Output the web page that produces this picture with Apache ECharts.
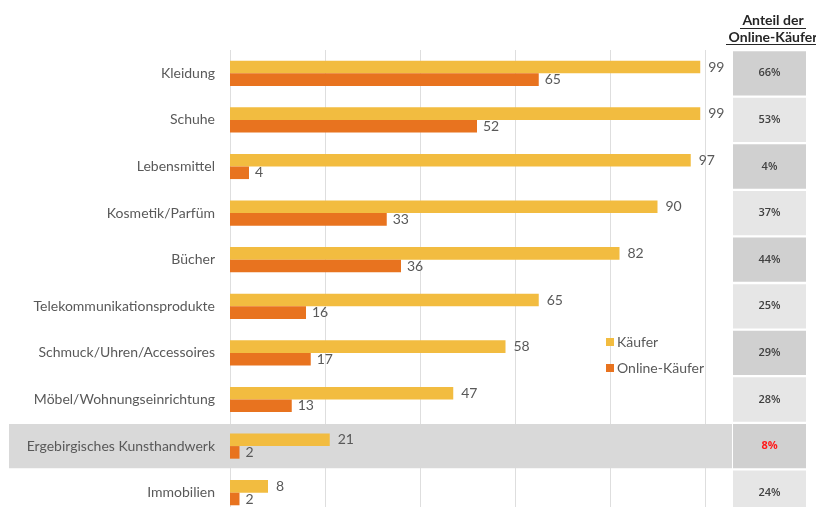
<!DOCTYPE html>
<html>
<head>
<meta charset="utf-8">
<script src="https://cdn.jsdelivr.net/npm/echarts@6/dist/echarts.min.js"></script>
<style>html,body{margin:0;padding:0;background:#fff}#c{width:816px;height:507px}</style>
</head>
<body>
<div id="c"></div>
<script>
const categories = ['Kleidung','Schuhe','Lebensmittel','Kosmetik/Parfüm','Bücher','Telekommunikationsprodukte','Schmuck/Uhren/Accessoires','Möbel/Wohnungseinrichtung','Ergebirgisches Kunsthandwerk','Immobilien'];
const kaeufer = [99,99,97,90,82,65,58,47,21,8];
const onlineKaeufer = [65,52,4,33,36,16,17,13,2,2];
const anteilOnline = [66,53,4,37,44,25,29,28,8,24];
const highlightCategory = 'Ergebirgisches Kunsthandwerk';
const xTicks = [0,20,40,60,80,100];

const FONT = 'Lato';
const GREY = '#595959';
const hiIdx = categories.indexOf(highlightCategory);

const chart = echarts.init(document.getElementById('c'));
const option = {
  animation: false,
  textStyle: {fontFamily: FONT},
  grid: [
    {left: 230, top: 50, width: 475, height: 466, outerBoundsMode: 'none', containLabel: false},
    {left: 733, top: 50, width: 73, height: 466, outerBoundsMode: 'none', containLabel: false}
  ],
  xAxis: [
    {type: 'value', gridIndex: 0, min: xTicks[0], max: xTicks[xTicks.length-1], interval: 20,
     axisLabel: {show: false}, axisLine: {show: false}, axisTick: {show: false},
     splitLine: {show: true, lineStyle: {color: '#dedede', width: 1}}, z: 0},
    {type: 'value', gridIndex: 1, min: 0, max: 1, show: false}
  ],
  yAxis: [
    {type: 'category', gridIndex: 0, data: categories, inverse: true, z: 3,
     axisLine: {show: false}, axisTick: {show: false},
     axisLabel: {color: GREY, fontSize: 14, fontFamily: FONT, margin: 15}},
    {type: 'category', gridIndex: 1, data: categories, inverse: true, show: false}
  ],
  legend: {
    orient: 'vertical', left: 601, top: 330, itemWidth: 8, itemHeight: 8, itemGap: 12,
    icon: 'rect', textStyle: {color: GREY, fontSize: 14, fontFamily: FONT, padding: [0,0,0,-2]},
    data: ['Käufer','Online-Käufer']
  },
  series: [
    {name: 'Käufer', type: 'bar', xAxisIndex: 0, yAxisIndex: 0, data: kaeufer,
     barGap: '0%', barCategoryGap: '46%', itemStyle: {color: '#F2BC40'}, z: 4,
     label: {show: true, position: 'right', distance: 8, color: GREY, fontSize: 14, fontFamily: FONT}},
    {name: 'Online-Käufer', type: 'bar', xAxisIndex: 0, yAxisIndex: 0, data: onlineKaeufer,
     barGap: '0%', barCategoryGap: '46%', itemStyle: {color: '#E8731F'}, z: 4,
     label: {show: true, position: 'right', distance: 6, color: GREY, fontSize: 14, fontFamily: FONT}},
    {name: 'Anteil', type: 'bar', xAxisIndex: 1, yAxisIndex: 1, barCategoryGap: '5%',
     data: anteilOnline.map((v, i) => ({
       value: 1,
       itemStyle: {color: i % 2 === 0 ? '#d0d0d0' : '#e6e6e6'},
       label: {show: true, position: 'inside', formatter: v + '%',
               color: i === hiIdx ? '#ff1a1a' : '#404040',
               fontWeight: i === hiIdx ? 'bold' : 600, fontSize: 11, fontFamily: 'Open Sans'}
     })),
     silent: true}
  ]
};
chart.setOption(option);

// highlight band and header, derived from the axis scales
const yc = chart.convertToPixel({yAxisIndex: 0}, highlightCategory);
const band = 466 / categories.length;
const cellH = band * 0.95;
const hx = 773;
chart.setOption({
  graphic: [
    {type: 'rect', z: 1, silent: true,
     shape: {x: 9, y: yc - cellH / 2, width: 723, height: cellH},
     style: {fill: '#d9d9d9'}},
    {type: 'text', z: 5, x: hx, y: 20, style: {text: 'Anteil der', fill: '#262626', font: 'bold 14px ' + FONT, align: 'center', verticalAlign: 'middle'}},
    {type: 'line', z: 5, shape: {x1: hx - 33, y1: 28.5, x2: hx + 33, y2: 28.5}, style: {stroke: '#262626', lineWidth: 1}},
    {type: 'text', z: 5, x: hx, y: 37, style: {text: 'Online-Käufer', fill: '#262626', font: 'bold 14px ' + FONT, align: 'center', verticalAlign: 'middle'}},
    {type: 'line', z: 5, shape: {x1: hx - 47, y1: 44.5, x2: hx + 47, y2: 44.5}, style: {stroke: '#262626', lineWidth: 1}}
  ]
});
</script>
</body>
</html>
